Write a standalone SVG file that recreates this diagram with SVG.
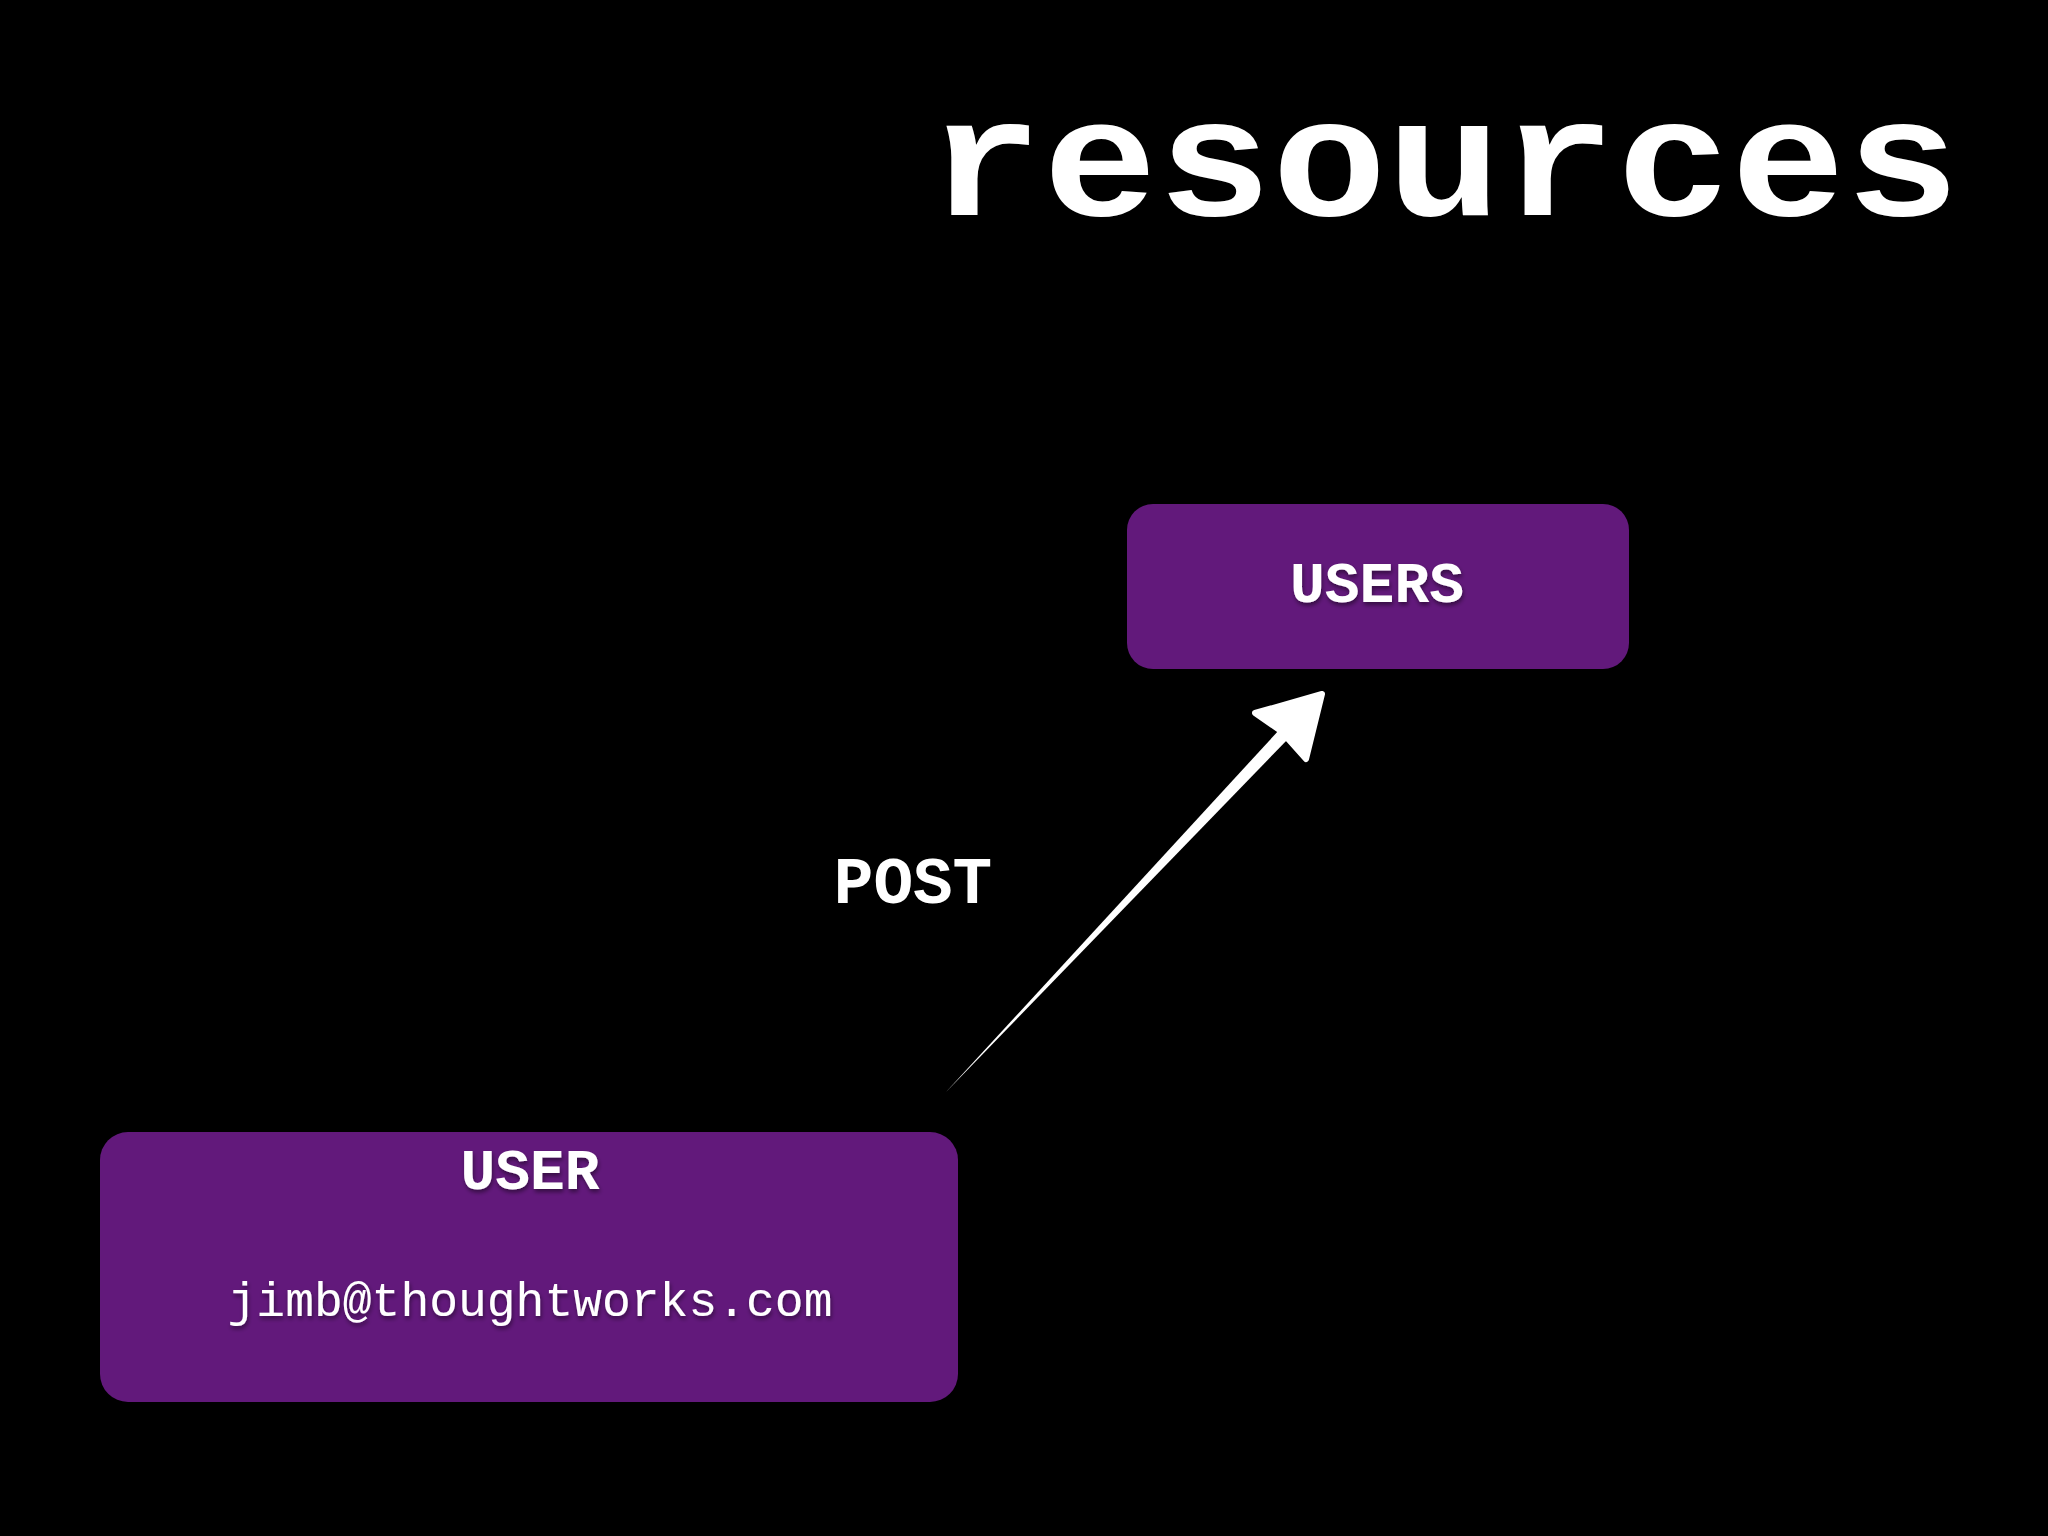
<svg xmlns="http://www.w3.org/2000/svg" width="2048" height="1536" viewBox="0 0 2048 1536">
  <defs>
    <style>
      .mono { font-family: "Liberation Mono", "DejaVu Sans Mono", monospace; fill: #ffffff; }
      .bold { font-weight: bold; }
      .box { fill: #62197b; }
    </style>
    <filter id="shadow" x="-10%" y="-30%" width="120%" height="160%">
      <feDropShadow dx="1" dy="3" stdDeviation="2" flood-color="#000000" flood-opacity="0.45"/>
    </filter>
  </defs>
  <rect x="0" y="0" width="2048" height="1536" fill="#000000"/>

  <g id="title">
    <text class="mono bold" x="928" y="215" font-size="168" textLength="1032" lengthAdjust="spacingAndGlyphs">resources</text>
  </g>

  <g id="node-users">
    <rect class="box" x="1127" y="504" width="502" height="165" rx="26" ry="26"/>
    <text class="mono bold" x="1377" y="602" font-size="58" text-anchor="middle" filter="url(#shadow)">USERS</text>
  </g>

  <g id="node-user">
    <rect class="box" x="100" y="1132" width="858" height="270" rx="28" ry="28"/>
    <text class="mono bold" x="530" y="1189" font-size="58" text-anchor="middle" filter="url(#shadow)">USER</text>
    <text class="mono" x="530" y="1316" font-size="48" text-anchor="middle" filter="url(#shadow)">jimb@thoughtworks.com</text>
  </g>

  <g id="connectors">
    <polygon points="946,1092 1289,738 1280,729" fill="#ffffff"/>
    <polygon points="1322,694 1255,713 1281,731 1306,759" fill="#ffffff" stroke="#ffffff" stroke-width="6" stroke-linejoin="round"/>
    <text class="mono bold" x="913" y="903" font-size="66" text-anchor="middle">POST</text>
  </g>
</svg>
